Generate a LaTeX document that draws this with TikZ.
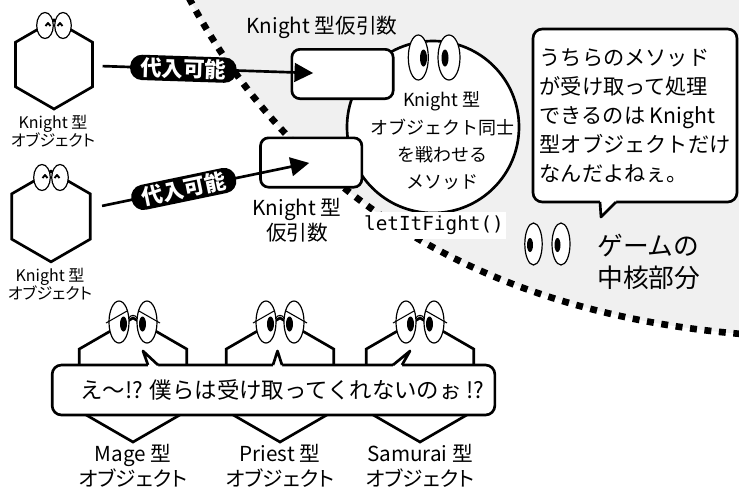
\documentclass[tikz,border=0pt]{standalone}
\usepackage{fontspec}
\setmainfont{Noto Sans CJK JP}
\setmonofont{DejaVu Sans Mono}
\newfontfamily\propfont{Noto Sans CJK JP}[RawFeature=+palt]
\usetikzlibrary{arrows.meta,positioning,calc,shapes.geometric}
\definecolor{coregray}{gray}{0.94}

\begin{document}
\begin{tikzpicture}[x=7.5pt, y=-7.5pt,
    outline/.style={draw=black, line width=2pt},
    hexa/.style={regular polygon, regular polygon sides=6,
                 shape border rotate=30, outline, fill=white, inner sep=0pt},
    slot/.style={rectangle, outline, fill=white, rounded corners=6pt,
                 minimum width=76pt, minimum height=37pt},
    bubble/.style={rectangle, outline, fill=white, rounded corners=7pt},
    eye/.style={draw=black, fill=white, line width=.9pt},
    arr/.style={-{Triangle[length=14pt, width=14pt]}, line width=2pt},
    pill/.style={fill=black, text=white, rounded corners=9pt,
                 font=\fontsize{16}{16}\selectfont\bfseries,
                 inner xsep=8pt, inner ysep=1pt, minimum height=19pt},
    lbl/.style={font=\fontsize{15.5}{18.5}\selectfont, align=center},
    objlbl/.style={font=\propfont\fontsize{12}{13.5}\selectfont, align=center},
    talk/.style={font=\fontsize{15.9}{21.75}\selectfont},
    worried/.pic={
      \draw[eye] (-1.4,0) ellipse [x radius=1, y radius=2.1];
      \draw[eye] (1.4,0) ellipse [x radius=1, y radius=2.1];
      \fill (-0.95,0.2) ellipse [x radius=.35, y radius=.75];
      \fill (0.95,0.2) ellipse [x radius=.35, y radius=.75];
      \draw[line width=.8pt] (-0.42,-0.4) .. controls (-0.2,-0.75) and (0.2,-0.75) .. (0.42,-0.4);
      \draw[line width=.8pt] (-2.7,0.1) -- (-0.6,-1.1);
      \draw[line width=.8pt] (2.7,0.1) -- (0.6,-1.1);
    },
    happy/.pic={
      \draw[eye] (-0.9,0) ellipse [x radius=.83, y radius=1.3];
      \draw[eye] (0.9,0) ellipse [x radius=.83, y radius=1.3];
      \draw[line width=1.4pt, line join=round] (-0.85,0.05) -- (-0.6,-0.25) -- (-0.35,0.05);
      \draw[line width=1.4pt, line join=round] (0.35,0.05) -- (0.6,-0.25) -- (0.85,0.05);
      \draw[line width=.7pt] (-0.16,-0.6) -- (0.16,-0.6);
    },
]
\useasboundingbox (0,0) rectangle (73.9,50.1);

% game core area
\fill[coregray] (18.9,-0.2) .. controls (28,17) and (45,31) .. (74.2,33.4)
  -- (74.2,-0.5) -- (18.9,-0.5) -- cycle;
\draw[line width=5pt, dash pattern=on 5.2pt off 5.7pt]
  (18.9,-0.2) .. controls (28,17) and (45,31) .. (74.2,33.4);

% the method
\node[circle, outline, fill=white, minimum size=129pt, inner sep=0pt] (fight) at (43.3,12.7) {};
\node[lbl, font=\fontsize{13.5}{20.5}\selectfont] (fighttxt) at (44.2,14.1)
  {Knight 型\\オブジェクト同士\\を戦わせる\\メソッド};
\draw[eye] (41.83,5.75) ellipse [x radius=1, y radius=2.25];
\draw[eye] (44.9,5.75) ellipse [x radius=1.1, y radius=2.25];
\fill (42.35,5.8) ellipse [x radius=.35, y radius=.85];
\fill (44.5,5.8) ellipse [x radius=.35, y radius=.85];

% parameters
\node[slot] (par1) at (34.25,7.4) {};
\node[slot] (par2) at (31.12,16.25) {};
\node[lbl] (par1lbl) at (32.2,2.7) {Knight 型仮引数};
\node[lbl] (par2lbl) at (29.7,22.0) {Knight 型\\仮引数};
\node[fill=white, inner sep=1.5pt, minimum height=20.5pt,
      font=\ttfamily\fontsize{14.5}{15}\selectfont] (call) at (43.4,22.55) {letItFight()};

% the core talks
\node[bubble, talk, align=left, minimum width=153pt, minimum height=129.75pt] (core) at (63.5,11.55)
  {うちらのメソッド\\が受け取って処理\\できるのは Knight\\型オブジェクトだけ\\なんだよねぇ。};
\fill[white] (60.0,19.9) -- (60.0,20.2) -- (60.1,21.7) -- (61.6,20.2) -- (61.6,19.9) -- cycle;
\draw[line width=2pt, line join=round] (60.0,20.2) -- (60.1,21.7) -- (61.6,20.2);
\draw[eye] (53.35,24.4) ellipse [x radius=.87, y radius=2.1];
\draw[eye] (56.1,24.4) ellipse [x radius=.9, y radius=2.1];
\fill (53.0,24.5) ellipse [x radius=.3, y radius=.7];
\fill (55.75,24.5) ellipse [x radius=.3, y radius=.7];
\node[font=\fontsize{19.3}{24}\selectfont, align=left, anchor=west, inner sep=0pt] (coretxt)
  at (59.7,26.2) {ゲームの\\中核部分};

% knight objects
\node[hexa, minimum size=66.75pt] (kn1) at (5.4,6.45) {};
\node[hexa, minimum size=68pt] (kn2) at (5.1,21.65) {};
\pic at (5.4,2.55) {happy};
\pic at (5.1,17.75) {happy};
\node[objlbl] (kn1lbl) at (5.3,13.1) {Knight 型\\オブジェクト};
\node[objlbl] (kn2lbl) at (5.0,28.4) {Knight 型\\オブジェクト};

% assignments
\draw[arr, shorten <=6.5pt, shorten >=22pt] (kn1) --
  node[pill, sloped, pos=.36] (ok1) {代入可能} (par1.center);
\draw[arr, shorten <=8pt, shorten >=1.5pt] (kn2) --
  node[pill, sloped, pos=.42] (ok2) {代入可能} (par2.center);

% other objects
\foreach \cx/\nm/\kind in {13.3/mage/Mage, 28.0/priest/Priest, 42.0/samurai/Samurai} {
  \node[hexa, minimum size=93pt] (\nm) at (\cx,38.0) {};
  \pic at (\cx,32.2) {worried};
  \node[lbl, font=\propfont\fontsize{15.5}{19}\selectfont] (\nm lbl) at (\cx,46.6)
    {\kind\ 型\\オブジェクト};
}

% their complaint
\node[bubble, minimum width=332pt, minimum height=37.5pt] (huh) at (27.35,39.0) {};
\node[font=\fontsize{16.8}{17}\selectfont] (huhtxt) at (28.25,39.0)
  {え〜!? 僕らは受け取ってくれないのぉ !?};
\foreach \a/\t/\b in {14.8/14.3/15.8, 27.3/27.75/28.2, 39.3/41.0/40.2} {
  \fill[white] (\a,36.9) -- (\a,36.5) -- (\t,35.1) -- (\b,36.5) -- (\b,36.9) -- cycle;
  \draw[line width=2pt, line join=round] (\a,36.5) -- (\t,35.1) -- (\b,36.5);
}

\end{tikzpicture}
\end{document}
